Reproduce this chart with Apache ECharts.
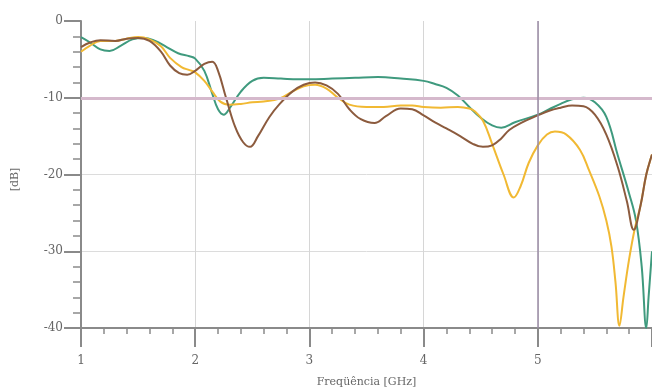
<!DOCTYPE html>
<html><head><meta charset="utf-8">
<script src="https://cdn.jsdelivr.net/npm/echarts@6/dist/echarts.min.js"></script>
<style>html,body{margin:0;padding:0;background:#fff}#c{width:652px;height:390px}</style>
</head><body><div id="c"></div>
<script>
var xTicks = [1, 2, 3, 4, 5];
var yTicks = [0, -10, -20, -30, -40];
var greenData = [[1.0,-2.1],[1.08,-2.8],[1.17,-3.7],[1.25,-3.9],[1.35,-3.2],[1.45,-2.4],[1.55,-2.2],[1.65,-2.6],[1.75,-3.4],[1.85,-4.2],[1.95,-4.6],[2.0,-4.9],[2.08,-6.5],[2.15,-9.5],[2.2,-11.5],[2.25,-12.2],[2.3,-11.4],[2.4,-9.2],[2.5,-7.8],[2.6,-7.4],[2.75,-7.5],[2.9,-7.6],[3.0,-7.6],[3.2,-7.5],[3.4,-7.4],[3.6,-7.3],[3.8,-7.5],[4.0,-7.8],[4.1,-8.2],[4.2,-8.7],[4.3,-9.7],[4.4,-11.2],[4.5,-12.6],[4.6,-13.6],[4.68,-13.9],[4.8,-13.2],[5.0,-12.2],[5.1,-11.5],[5.2,-10.8],[5.3,-10.2],[5.4,-10.0],[5.5,-10.6],[5.6,-12.5],[5.7,-17.5],[5.8,-22.5],[5.86,-26],[5.91,-32],[5.95,-40],[5.97,-36],[6.0,-30]];
var brownData = [[1.0,-3.4],[1.08,-2.8],[1.17,-2.5],[1.3,-2.6],[1.4,-2.3],[1.5,-2.2],[1.6,-2.6],[1.7,-4.0],[1.78,-5.8],[1.86,-6.8],[1.93,-7.0],[2.0,-6.5],[2.08,-5.6],[2.15,-5.3],[2.2,-6.5],[2.27,-10],[2.35,-13.8],[2.42,-15.8],[2.48,-16.4],[2.55,-15],[2.65,-12.5],[2.74,-10.8],[2.85,-9.2],[2.95,-8.3],[3.05,-8.0],[3.15,-8.4],[3.25,-9.5],[3.35,-11.5],[3.45,-12.8],[3.57,-13.3],[3.67,-12.4],[3.8,-11.4],[3.9,-11.5],[4.0,-12.3],[4.1,-13.2],[4.2,-14.0],[4.32,-15.0],[4.43,-16.0],[4.52,-16.4],[4.6,-16.2],[4.68,-15.3],[4.75,-14.2],[4.85,-13.3],[5.0,-12.3],[5.1,-11.7],[5.2,-11.3],[5.3,-11.0],[5.4,-11.1],[5.5,-12.2],[5.6,-14.8],[5.7,-19.0],[5.78,-23.5],[5.84,-27.2],[5.9,-24],[5.95,-20],[6.0,-17.4]];
var yellowData = [[1.0,-4.0],[1.08,-3.2],[1.17,-2.6],[1.3,-2.6],[1.4,-2.3],[1.5,-2.1],[1.6,-2.4],[1.7,-3.3],[1.78,-4.8],[1.88,-6.0],[1.95,-6.4],[2.0,-6.7],[2.08,-7.8],[2.15,-9.2],[2.22,-10.5],[2.3,-10.9],[2.4,-10.8],[2.5,-10.6],[2.6,-10.5],[2.74,-10.1],[2.85,-9.2],[2.95,-8.5],[3.05,-8.3],[3.15,-8.8],[3.25,-10.0],[3.35,-10.9],[3.5,-11.2],[3.65,-11.2],[3.8,-11.0],[3.9,-11.0],[4.0,-11.2],[4.15,-11.3],[4.3,-11.2],[4.4,-11.4],[4.45,-11.8],[4.52,-13],[4.6,-16],[4.7,-20],[4.79,-23],[4.85,-21.5],[4.92,-18.5],[5.0,-16.2],[5.08,-14.8],[5.15,-14.4],[5.25,-14.8],[5.37,-16.8],[5.45,-19.5],[5.54,-22.9],[5.6,-26],[5.645,-29.4],[5.68,-34],[5.715,-39.7],[5.75,-36],[5.8,-31],[5.85,-27],[5.9,-24],[5.95,-20],[6.0,-17.4]];
var refLevel = -10;
var refFreq = 5;

var font = 'DejaVu Serif';
var chart = echarts.init(document.getElementById('c'));
chart.setOption({
  animation: false,
  grid: {left: 81, right: 0, top: 21, bottom: 62, outerBoundsMode: 'none', containLabel: false},
  xAxis: {
    type: 'value', min: 1, max: 6, interval: 1,
    name: 'Freqüência [GHz]', nameLocation: 'middle', nameGap: 49,
    nameTextStyle: {fontFamily: font, fontSize: 11, color: '#666'},
    axisLine: {show: true, onZero: false, lineStyle: {color: '#8a8a8a', width: 2}},
    axisTick: {show: true, length: 19, lineStyle: {color: '#8a8a8a', width: 2}},
    minorTick: {show: true, splitNumber: 5, length: 6, lineStyle: {color: '#8a8a8a', width: 1.5}},
    axisLabel: {fontFamily: font, fontSize: 12, color: '#666', margin: 27,
      formatter: function (v) { return xTicks.indexOf(v) >= 0 ? String(v) : ''; }},
    splitLine: {show: true, lineStyle: {color: ['#d6d6d6', '#d6d6d6', '#d6d6d6', '#d6d6d6', '#d6d6d6', 'rgba(0,0,0,0)'], width: 1}}
  },
  yAxis: {
    type: 'value', min: -40, max: 0, interval: 10,
    name: '[dB]', nameLocation: 'middle', nameGap: 60, nameRotate: 90,
    nameTextStyle: {fontFamily: font, fontSize: 11, color: '#666', padding: [0, 10, 0, 0]},
    axisLine: {show: true, onZero: false, lineStyle: {color: '#8a8a8a', width: 2}},
    axisTick: {show: true, length: 17, lineStyle: {color: '#8a8a8a', width: 2}},
    minorTick: {show: true, splitNumber: 5, length: 8, lineStyle: {color: '#8a8a8a', width: 1.5}},
    axisLabel: {fontFamily: font, fontSize: 12, color: '#666', margin: 18,
      formatter: function (v) { return yTicks.indexOf(v) >= 0 ? String(v) : ''; }},
    splitLine: {show: true, lineStyle: {color: ['#dcdcdc', '#dcdcdc', '#dcdcdc', '#dcdcdc', 'rgba(0,0,0,0)'], width: 1}}
  },
  series: [
    {type: 'line', data: [], z: 1, silent: true,
     markLine: {silent: true, symbol: 'none', label: {show: false},
       data: [
         {yAxis: refLevel, lineStyle: {color: '#d5b9cc', width: 3, type: 'solid'}},
         {xAxis: refFreq, lineStyle: {color: '#9a8ba4', width: 1.5, type: 'solid'}}
       ]}},
    {name: 'green', type: 'line', data: greenData, smooth: 0.4, showSymbol: false, z: 3,
     lineStyle: {color: '#3f9a7e', width: 2}},
    {name: 'yellow', type: 'line', data: yellowData, smooth: 0.4, showSymbol: false, z: 3,
     lineStyle: {color: '#f1b933', width: 2}},
    {name: 'brown', type: 'line', data: brownData, smooth: 0.4, showSymbol: false, z: 4,
     lineStyle: {color: '#8c5b3e', width: 2}}
  ]
});
</script></body></html>
